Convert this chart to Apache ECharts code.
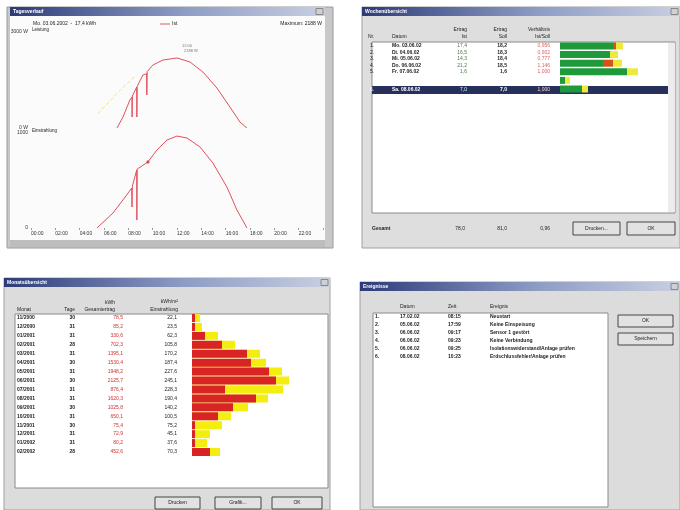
<!DOCTYPE html>
<html><head><meta charset="utf-8">
<script src="https://cdn.jsdelivr.net/npm/echarts@6/dist/echarts.min.js"></script>
<style>html,body{margin:0;padding:0;background:#fff}#c{width:680px;height:510px}</style>
</head><body><div id="c"></div>
<script>
// ---------- Tagesverlauf (top-left) ----------
const hourTicks = ['00:00','02:00','04:00','06:00','08:00','10:00','12:00','14:00','16:00','18:00','20:00','22:00'];
const powerCurve = [[7.07,0],[7.56,344],[8.13,875],[8.30,969],[8.31,344],[8.33,1000],[8.69,1281],[8.70,344],[8.73,1300],[9.2,1656],[9.50,1700],[9.52,1031],[9.55,1760],[10.02,1969],[10.85,2125],[12.0,2188],[13.07,2063],[14.13,1750],[15.28,1250],[16.35,656],[17.17,188],[17.75,0]];
const sollCurve = [[5.5,450],[6.5,850],[7.5,1250],[8.5,1600]];
const irradCurve = [[5.42,0],[6.74,158],[7.56,295],[8.28,421],[8.30,221],[8.33,440],[8.69,611],[8.70,84],[8.73,620],[9.61,695],[10.35,821],[11.18,926],[12.0,968],[12.82,947],[13.89,853],[14.95,684],[16.1,432],[16.93,189],[17.75,0]];
const irradMark = [[9.61,695]];
// ---------- Wochenübersicht (top-right) ----------
const weekNr = ['1.','2.','3.','4.','5.','6.'];
const weekDates = ['Mo. 03.06.02','Di. 04.06.02','Mi. 05.06.02','Do. 06.06.02','Fr. 07.06.02','Sa. 08.06.02'];
const weekIst = ['17,4','16,5','14,3','21,2','1,6','7,0'];
const weekSoll = ['18,2','18,3','18,4','18,5','1,6','7,0'];
const weekRatio = ['0,956','0,902','0,777','1,146','1,000','1,000'];
const weekGreen = [53,50,43,67,5,22];
const weekRed = [3,0,10,0,0,0];
const weekYellow = [7,8,9,11,5,6];
const weekTotal = ['78,0','81,0','0,96'];
// ---------- Monatsübersicht (bottom-left) ----------
const months = ['11/2000','12/2000','01/2001','02/2001','03/2001','04/2001','05/2001','06/2001','07/2001','08/2001','09/2001','10/2001','11/2001','12/2001','01/2002','02/2002'];
const monthDays = ['30','31','31','28','31','30','31','30','31','31','30','31','30','31','31','28'];
const monthKwh = ['78,5','85,2','330,6','702,3','1395,1','1530,4','1948,2','2125,7','876,4','1620,3','1025,8','650,1','75,4','72,9','80,2','452,6'];
const monthIrr = ['22,1','23,5','62,3','105,8','170,2','187,4','227,6','245,1','228,3','190,4','140,2','100,5','75,2','45,1','37,6','70,3'];
const monthRed = [3,3,13,30,55,59,77,84,33,64,41,26,3,3,3,18];
const monthTotal = [8,10,26,43,68,74,90,97,91,76,56,39,30,18,15,28];
// ---------- Ereignisse (bottom-right) ----------
const evNr = ['1.','2.','3.','4.','5.','6.'];
const evDate = ['17.02.02','05.06.02','06.06.02','06.06.02','06.06.02','08.06.02'];
const evTime = ['08:15','17:59','09:17','09:23','09:25','10:23'];
const evText = ['Neustart','Keine Einspeisung','Sensor 1 gestört','Keine Verbindung','Isolationswiderstand/Anlage prüfen','Erdschlussfehler/Anlage prüfen'];

const FONT = '"Liberation Sans", Arial, sans-serif';
const G = [];
function rect(x,y,w,h,fill,stroke,z){G.push({type:'rect',z:z||0,shape:{x,y,width:w,height:h},style:{fill:fill,stroke:stroke||null,lineWidth:stroke?1:0}});}
function txt(x,y,s,o){o=o||{};G.push({type:'text',z:50,x:x,y:y,style:{text:s,fill:o.c||'#222',font:(o.b?'bold ':'')+(o.s||6)+'px '+FONT,align:o.a||'left',verticalAlign:'middle'}});}
function title(x,y,w,s){
  G.push({type:'rect',z:1,shape:{x,y,width:w,height:9},style:{fill:new echarts.graphic.LinearGradient(0,0,1,0,[{offset:0,color:'#2c3b78'},{offset:0.55,color:'#8d9cc4'},{offset:1,color:'#c9cfe2'}])}});
  txt(x+3,y+4.5,s,{c:'#fff',b:true,s:5});
  rect(x+w-9,y+1.5,7,6,'#d0d0d0','#888',2);
}
function button(x,y,w,h,s){rect(x,y,w,h,'#e2e2e2','#444',3);txt(x+w/2,y+h/2,s,{a:'center',s:5});}

// window 1
rect(7,7,326,241,'#c8c8c8','#9a9a9a');
rect(10,16,315,225,'#fbfbfb');
title(10,7,315,'Tagesverlauf');
rect(10,240,315,7,'#bdbdbd');
txt(33,24,'Mo. 03.06.2002  -  17,4 kWh',{s:5});
G.push({type:'line',z:50,shape:{x1:160,y1:24,x2:170,y2:24},style:{stroke:'#e05a64',lineWidth:1}});
txt(172,24,'Ist',{s:5});
txt(322,24,'Maximum: 2188 W',{s:5,a:'right'});
txt(32,29.5,'Leistung',{s:4.5});
txt(32,131,'Einstrahlung',{s:4.5});
txt(182,46,'12:00',{s:4,c:'#777'});
txt(184,51,'2188 W',{s:4,c:'#777'});

// window 2
rect(362,7,318,241,'#dedede','#a0a0a0');
title(362,7,318,'Wochenübersicht');
txt(368,37,'Nr.',{s:5});
txt(392,37,'Datum',{s:5});
txt(467,30,'Ertrag',{s:5,a:'right'});txt(467,37,'Ist',{s:5,a:'right'});
txt(507,30,'Ertrag',{s:5,a:'right'});txt(507,37,'Soll',{s:5,a:'right'});
txt(550,30,'Verhältnis',{s:5,a:'right'});txt(550,37,'Ist/Soll',{s:5,a:'right'});
rect(372,42,303,171,'#ffffff','#8a8a8a');
rect(668,43,7,169,'#ececec');
rect(372,86,296,8,'#27305a',null,1);
const wRowY=[46,52.5,59,65.5,72,90];
weekDates.forEach((d,i)=>{
  const sel = i===5, y=wRowY[i];
  txt(370,y,weekNr[i],{s:5,c:sel?'#fff':'#222'});
  txt(392,y,d,{s:5,b:true,c:sel?'#fff':'#222'});
  txt(467,y,weekIst[i],{s:5,a:'right',c:sel?'#cfe':'#4a7a4a'});
  txt(507,y,weekSoll[i],{s:5,a:'right',b:true,c:sel?'#fff':'#222'});
  txt(550,y,weekRatio[i],{s:5,a:'right',c:sel?'#fcc':'#e06060'});
});
txt(372,229,'Gesamt',{s:5,b:true});
txt(465,229,weekTotal[0],{s:5,a:'right'});
txt(507,229,weekTotal[1],{s:5,a:'right'});
txt(550,229,weekTotal[2],{s:5,a:'right'});
button(573,222,47,13,'Drucken...');
button(627,222,48,13,'OK');

// window 3
rect(4,278,326,232,'#dcdcdc','#a0a0a0');
title(4,278,326,'Monatsübersicht');
txt(17,310,'Monat',{s:5});
txt(75,310,'Tage',{s:5,a:'right'});
txt(115,303,'kWh',{s:5,a:'right'});txt(115,310,'Gesamtertrag',{s:5,a:'right'});
txt(178,302,'kWh/m²',{s:5,a:'right'});txt(178,310,'Einstrahlung',{s:5,a:'right'});
rect(15,314,313,174,'#ffffff','#8a8a8a');
months.forEach((m,i)=>{
  const y=318+i*8.93;
  txt(17,y,m,{s:5,b:true});
  txt(75,y,monthDays[i],{s:5,a:'right',b:true});
  txt(123,y,monthKwh[i],{s:5,a:'right',c:'#d03030'});
  txt(177,y,monthIrr[i],{s:5,a:'right'});
});
button(155,497,45,12,'Drucken');
button(215,497,46,12,'Grafik...');
button(272,497,50,12,'OK');

// window 4
rect(360,282,320,228,'#dcdcdc','#a0a0a0');
title(360,282,320,'Ereignisse');
txt(400,307,'Datum',{s:5});
txt(448,307,'Zeit',{s:5});
txt(490,307,'Ereignis',{s:5});
rect(373,313,235,194,'#ffffff','#8a8a8a');
evDate.forEach((d,i)=>{
  const y=317+i*8;
  txt(375,y,evNr[i],{s:5,b:true});
  txt(400,y,d,{s:5,b:true});
  txt(448,y,evTime[i],{s:5,b:true});
  txt(490,y,evText[i],{s:5,b:true});
});
button(618,315,55,12,'OK');
button(618,333,55,12,'Speichern');

const chart = echarts.init(document.getElementById('c'),null,{renderer:'canvas'});
chart.setOption({
  animation:false,
  backgroundColor:'#ffffff',
  graphic:{elements:G},
  grid:[
    {left:31,top:32,width:292,height:96,show:true,borderColor:'#9a9a9a',borderWidth:1,backgroundColor:'#fff',outerBoundsMode:'none'},
    {left:31,top:133,width:292,height:95,show:true,borderColor:'#9a9a9a',borderWidth:1,backgroundColor:'#fff',outerBoundsMode:'none'},
    {left:560,top:41.7,width:110,height:51.6,outerBoundsMode:'none'},
    {left:192,top:313.5,width:130,height:143,outerBoundsMode:'none'}
  ],
  xAxis:[
    {gridIndex:0,type:'value',min:0,max:24,interval:2,axisLabel:{show:false},axisLine:{show:false},axisTick:{show:false},splitLine:{show:false}},
    {gridIndex:1,type:'value',min:0,max:24,interval:2,axisLine:{show:false},axisTick:{show:true,length:2,lineStyle:{color:'#999'}},splitLine:{show:false},
      axisLabel:{fontSize:5,color:'#333',align:'left',margin:3,fontFamily:'Liberation Sans',formatter:v=>hourTicks[v/2]||''}},
    {gridIndex:2,type:'value',min:0,max:110,show:false},
    {gridIndex:3,type:'value',min:0,max:130,show:false}
  ],
  yAxis:[
    {gridIndex:0,type:'value',min:0,max:3000,interval:3000,axisLine:{show:false},axisTick:{show:false},splitLine:{show:false},axisLabel:{fontSize:5,color:'#333',margin:3,formatter:v=>v+' W'}},
    {gridIndex:1,type:'value',min:0,max:1000,interval:1000,axisLine:{show:false},axisTick:{show:false},splitLine:{show:false},axisLabel:{fontSize:5,color:'#333',margin:3,formatter:v=>String(v)}},
    {gridIndex:2,type:'category',data:weekDates,inverse:true,show:false},
    {gridIndex:3,type:'category',data:months,inverse:true,show:false}
  ],
  series:[
    {type:'line',xAxisIndex:0,yAxisIndex:0,data:sollCurve,showSymbol:false,lineStyle:{width:1,color:'#f1e48a',type:'dashed'},z:3},
    {type:'line',xAxisIndex:0,yAxisIndex:0,data:powerCurve,showSymbol:false,lineStyle:{width:1,color:'#e0505c'},z:4},
    {type:'line',xAxisIndex:1,yAxisIndex:1,data:irradCurve,showSymbol:false,lineStyle:{width:1,color:'#e0505c'},z:4},
    {type:'scatter',xAxisIndex:1,yAxisIndex:1,data:irradMark,symbol:'diamond',symbolSize:4,itemStyle:{color:'#d03040'},z:5},
    {type:'bar',xAxisIndex:2,yAxisIndex:2,stack:'w',data:weekGreen,barWidth:7,itemStyle:{color:'#1e9a3a'},z:5},
    {type:'bar',xAxisIndex:2,yAxisIndex:2,stack:'w',data:weekRed,barWidth:7,itemStyle:{color:'#d8501a'},z:5},
    {type:'bar',xAxisIndex:2,yAxisIndex:2,stack:'w',data:weekYellow,barWidth:7,itemStyle:{color:'#eeea3c'},z:5},
    {type:'bar',xAxisIndex:3,yAxisIndex:3,data:monthTotal,barWidth:8,barGap:'-100%',itemStyle:{color:'#f4ee10'},z:5},
    {type:'bar',xAxisIndex:3,yAxisIndex:3,data:monthRed,barWidth:8,barGap:'-100%',itemStyle:{color:'#d82424'},z:6}
  ]
});
</script></body></html>
